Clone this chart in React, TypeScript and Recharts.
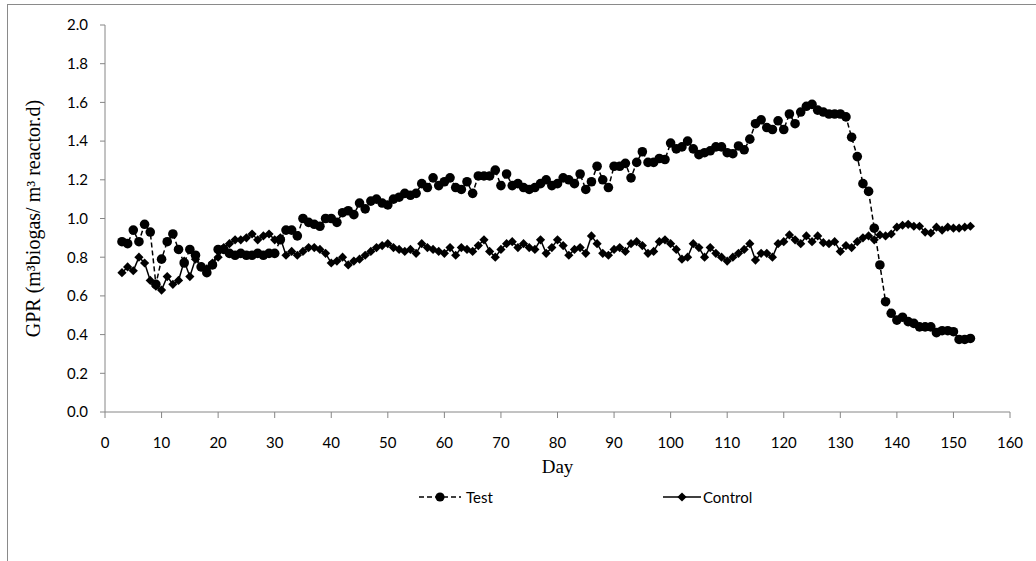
import { LineChart, Line, XAxis, YAxis } from "recharts";

// sampling days
const days = [
  3, 4, 5, 6, 7, 8, 9, 10, 11, 12, 13, 14, 15, 16, 17, 18, 19, 20, 21, 22,
  23, 24, 25, 26, 27, 28, 29, 30, 31, 32, 33, 34, 35, 36, 37, 38, 39, 40, 41, 42,
  43, 44, 45, 46, 47, 48, 49, 50, 51, 52, 53, 54, 55, 56, 57, 58, 59, 60, 61, 62,
  63, 64, 65, 66, 67, 68, 69, 70, 71, 72, 73, 74, 75, 76, 77, 78, 79, 80, 81, 82,
  83, 84, 85, 86, 87, 88, 89, 90, 91, 92, 93, 94, 95, 96, 97, 98, 99, 100, 101, 102,
  103, 104, 105, 106, 107, 108, 109, 110, 111, 112, 113, 114, 115, 116, 117, 118, 119, 120, 121, 122,
  123, 124, 125, 126, 127, 128, 129, 130, 131, 132, 133, 134, 135, 136, 137, 138, 139, 140, 141, 142,
  143, 144, 145, 146, 147, 148, 149, 150, 151, 152, 153,
];

const testGpr = [
  0.88, 0.87, 0.94, 0.88, 0.97, 0.93, 0.66, 0.79, 0.88, 0.92, 0.84, 0.77, 0.84, 0.81, 0.75, 0.72, 0.76, 0.84, 0.84, 0.82,
  0.81, 0.82, 0.81, 0.81, 0.82, 0.81, 0.82, 0.82, 0.89, 0.94, 0.94, 0.91, 1.0, 0.98, 0.97, 0.96, 1.0, 1.0, 0.98, 1.03,
  1.04, 1.02, 1.08, 1.05, 1.09, 1.1, 1.08, 1.07, 1.1, 1.11, 1.13, 1.12, 1.13, 1.18, 1.16, 1.21, 1.17, 1.19, 1.21, 1.16,
  1.15, 1.19, 1.13, 1.22, 1.22, 1.22, 1.25, 1.17, 1.23, 1.17, 1.18, 1.16, 1.15, 1.16, 1.18, 1.2, 1.17, 1.18, 1.21, 1.2,
  1.18, 1.23, 1.15, 1.19, 1.27, 1.2, 1.16, 1.27, 1.27, 1.285, 1.21, 1.29, 1.345, 1.29, 1.29, 1.31, 1.305, 1.39, 1.36, 1.37,
  1.4, 1.36, 1.33, 1.34, 1.35, 1.37, 1.37, 1.34, 1.335, 1.375, 1.355, 1.41, 1.49, 1.51, 1.47, 1.46, 1.505, 1.46, 1.54, 1.49,
  1.55, 1.58, 1.59, 1.56, 1.55, 1.54, 1.54, 1.54, 1.525, 1.42, 1.32, 1.18, 1.14, 0.95, 0.76, 0.57, 0.51, 0.475, 0.49, 0.467,
  0.458, 0.44, 0.44, 0.44, 0.41, 0.42, 0.42, 0.415, 0.375, 0.375, 0.38,
];

const controlGpr = [
  0.72, 0.75, 0.73, 0.8, 0.77, 0.68, 0.65, 0.63, 0.7, 0.66, 0.68, 0.78, 0.7, 0.79, 0.75, 0.74, 0.77, 0.8, 0.85, 0.87,
  0.89, 0.89, 0.9, 0.92, 0.89, 0.91, 0.92, 0.89, 0.9, 0.81, 0.83, 0.81, 0.83, 0.85, 0.85, 0.84, 0.82, 0.77, 0.78, 0.8,
  0.76, 0.78, 0.79, 0.81, 0.83, 0.85, 0.86, 0.87, 0.85, 0.84, 0.83, 0.84, 0.82, 0.87, 0.85, 0.84, 0.83, 0.82, 0.85, 0.81,
  0.85, 0.84, 0.83, 0.86, 0.89, 0.83, 0.8, 0.84, 0.87, 0.88, 0.85, 0.87, 0.85, 0.84, 0.89, 0.82, 0.85, 0.89, 0.86, 0.81,
  0.84, 0.85, 0.82, 0.91, 0.87, 0.82, 0.81, 0.84, 0.85, 0.83, 0.87, 0.88, 0.86, 0.82, 0.83, 0.88, 0.89, 0.87, 0.84, 0.79,
  0.8, 0.87, 0.85, 0.8, 0.85, 0.82, 0.8, 0.78, 0.8, 0.82, 0.84, 0.87, 0.785, 0.82, 0.82, 0.8, 0.87, 0.88, 0.915, 0.89,
  0.87, 0.91, 0.88, 0.91, 0.875, 0.87, 0.88, 0.83, 0.86, 0.85, 0.88, 0.9, 0.91, 0.89, 0.915, 0.91, 0.92, 0.955, 0.965, 0.97,
  0.96, 0.96, 0.93, 0.925, 0.955, 0.94, 0.955, 0.95, 0.95, 0.955, 0.96,
];

const xTicks = [0, 10, 20, 30, 40, 50, 60, 70, 80, 90, 100, 110, 120, 130, 140, 150, 160];
const yTicks = [0, 0.2, 0.4, 0.6, 0.8, 1.0, 1.2, 1.4, 1.6, 1.8, 2.0];

const data = days.map((day, i) => ({
  day,
  test: testGpr[i],
  control: controlGpr[i],
}));

const axisGray = "#868686";
const tickFont = "Lato, 'Open Sans', sans-serif";
const serif = "'Liberation Serif', 'DejaVu Serif', serif";

function DiamondDot(props: any) {
  const { cx, cy } = props;
  if (cx == null || cy == null) return null;
  const s = 4.6;
  return (
    <polygon
      points={`${cx},${cy - s} ${cx + s},${cy} ${cx},${cy + s} ${cx - s},${cy}`}
      fill="#000"
    />
  );
}

function YTitle(props: any) {
  const vb = props.viewBox;
  const x = vb.x - 12;
  const y = vb.y + vb.height / 2;
  return (
    <text
      x={x}
      y={y}
      transform={`rotate(-90 ${x} ${y})`}
      textAnchor="middle"
      dominantBaseline="central"
      fontFamily={serif}
      fontSize={20}
      fill="#000"
    >
      GPR (m³biogas/ m³ reactor.d)
    </text>
  );
}

function XTitle(props: any) {
  const vb = props.viewBox;
  return (
    <text
      x={vb.x + vb.width / 2}
      y={vb.y + 61}
      textAnchor="middle"
      fontFamily={serif}
      fontSize={19}
      fill="#000"
    >
      Day
    </text>
  );
}

export default function App() {
  return (
    <div
      style={{
        position: "absolute",
        left: 0,
        top: 0,
        width: 1036,
        height: 561,
        overflow: "hidden",
        background: "#fff",
      }}
    >
      <div
        style={{
          position: "absolute",
          left: 7,
          top: 4,
          width: 1100,
          height: 700,
          borderLeft: "1px solid #8a8a8a",
          borderTop: "1px solid #8a8a8a",
        }}
      />
      <LineChart
        width={1036}
        height={561}
        data={data}
        margin={{ top: 25, right: 26, left: 45, bottom: 89 }}
      >
        <XAxis
          type="number"
          dataKey="day"
          domain={[0, 160]}
          ticks={xTicks}
          interval={0}
          height={60}
          stroke={axisGray}
          tickSize={6}
          tickMargin={19}
          tick={{ fill: "#000", fontSize: 15, fontFamily: tickFont }}
          label={<XTitle />}
        />
        <YAxis
          type="number"
          domain={[0, 2]}
          ticks={yTicks}
          interval={0}
          width={60}
          stroke={axisGray}
          tickSize={5}
          tickMargin={12}
          tickFormatter={(v: number) => v.toFixed(1)}
          tick={{ fill: "#000", fontSize: 15, fontFamily: tickFont }}
          label={<YTitle />}
        />
        <Line
          type="linear"
          dataKey="test"
          stroke="#000"
          strokeWidth={1.5}
          strokeDasharray="5 3"
          dot={{ r: 4.8, fill: "#000", stroke: "none" }}
          isAnimationActive={false}
        />
        <Line
          type="linear"
          dataKey="control"
          stroke="#000"
          strokeWidth={1.5}
          dot={(p: any) => <DiamondDot key={`c-${p.index}`} {...p} />}
          isAnimationActive={false}
        />
      </LineChart>
      <div
        style={{
          position: "absolute",
          top: 487,
          left: 0,
          width: 1036,
          height: 24,
          fontFamily: tickFont,
          fontSize: 15,
          color: "#000",
        }}
      >
        <div style={{ position: "absolute", left: 418, top: 0, display: "flex", alignItems: "center" }}>
          <svg width={44} height={20}>
            <line x1={1} y1={10} x2={43} y2={10} stroke="#000" strokeWidth={1.5} strokeDasharray="5 3" />
            <circle cx={22} cy={10} r={4.6} fill="#000" />
          </svg>
          <span style={{ marginLeft: 4 }}>Test</span>
        </div>
        <div style={{ position: "absolute", left: 663, top: 0, display: "flex", alignItems: "center" }}>
          <svg width={38} height={20}>
            <line x1={0} y1={10} x2={38} y2={10} stroke="#000" strokeWidth={1.5} />
            <polygon points="19,5.4 23.6,10 19,14.6 14.4,10" fill="#000" />
          </svg>
          <span style={{ marginLeft: 2 }}>Control</span>
        </div>
      </div>
    </div>
  );
}
